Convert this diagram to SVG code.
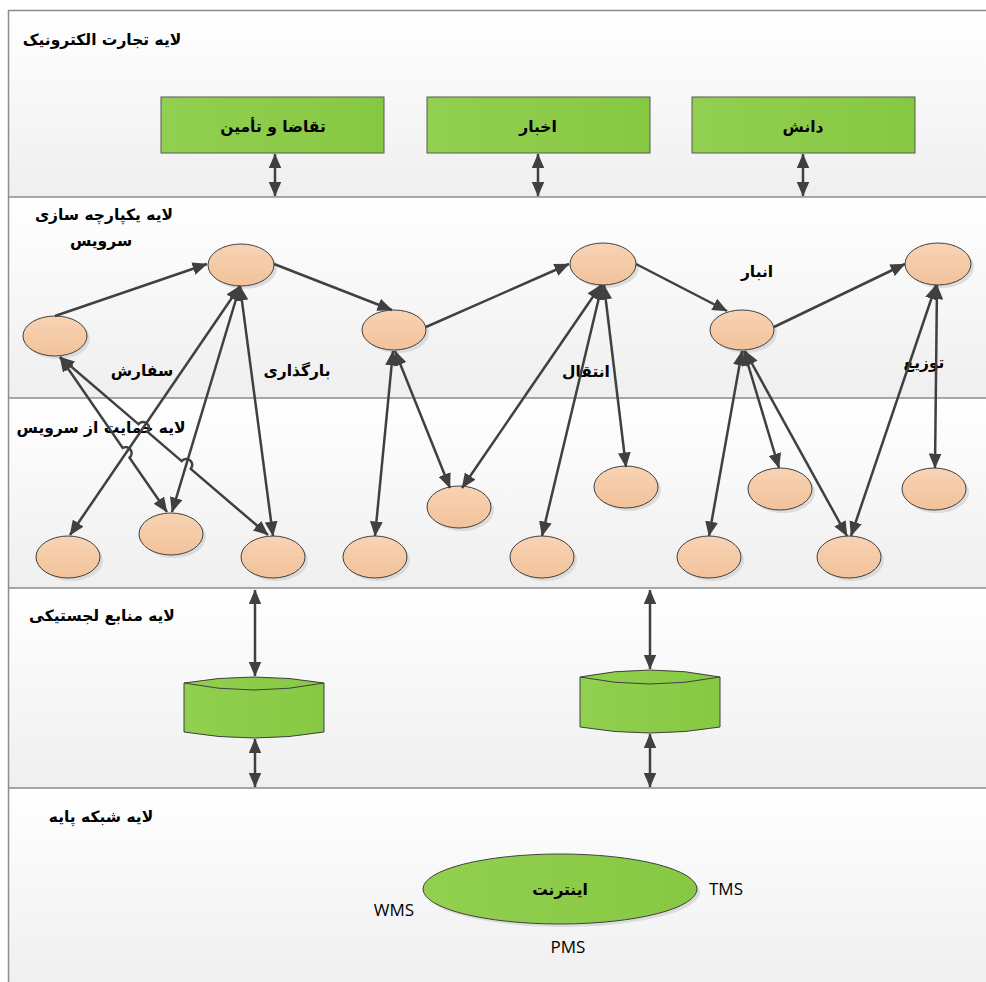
<svg xmlns="http://www.w3.org/2000/svg" width="986" height="982" viewBox="0 0 986 982">
<defs>
<linearGradient id="band" x1="0" y1="0" x2="0" y2="1">
<stop offset="0" stop-color="#ffffff"/>
<stop offset="1" stop-color="#efefef"/>
</linearGradient>
<linearGradient id="green" x1="0" y1="0" x2="1" y2="0">
<stop offset="0" stop-color="#91d050"/>
<stop offset="1" stop-color="#87c843"/>
</linearGradient>
<linearGradient id="peach" x1="0" y1="0" x2="0" y2="1">
<stop offset="0" stop-color="#f8d3b4"/>
<stop offset="1" stop-color="#f2c29b"/>
</linearGradient>
<marker id="ah" viewBox="0 0 14 12" refX="13.5" refY="6" markerWidth="15" markerHeight="13" markerUnits="userSpaceOnUse" orient="auto-start-reverse">
<path d="M0,0 L14,6 L0,12 z" fill="#404040"/>
</marker>
</defs>
<style>
.band{fill:url(#band);}
.sep{stroke:#8c8c8c;stroke-width:1.5;fill:none;}
.box{fill:url(#green);stroke:#595959;stroke-width:1;}
.cyl{fill:url(#green);stroke:#404040;stroke-width:1;}
.node{fill:url(#peach);stroke:#404040;stroke-width:1;}
.shadow{fill:#d6d6d6;opacity:0.8;}
.con{stroke:#404040;stroke-width:2.5;fill:none;marker-start:url(#ah);marker-end:url(#ah);}
.fa{font-family:'DejaVu Sans',sans-serif;font-weight:bold;font-size:15.5px;fill:#000;text-anchor:middle;}
.en{font-family:'Open Sans','Liberation Sans',sans-serif;font-size:17px;fill:#000;text-anchor:middle;}
</style>

<g id="layers">
<rect class="band" x="8" y="10" width="990" height="187"/>
<rect class="band" x="8" y="197" width="990" height="201"/>
<rect class="band" x="8" y="398" width="990" height="190"/>
<rect class="band" x="8" y="588" width="990" height="200"/>
<rect class="band" x="8" y="788" width="990" height="200"/>
<path class="sep" d="M8.5,990 L8.5,10.5 L990,10.5 M8,197 L990,197 M8,398 L990,398 M8,588 L990,588 M8,788 L990,788"/>
<text class="fa" x="102" y="45" direction="rtl">لایه تجارت الکترونیک</text>
<text class="fa" x="104" y="220" direction="rtl">لایه یکپارچه سازی</text>
<text class="fa" x="101" y="246" direction="rtl">سرویس</text>
<text class="fa" x="101" y="433" direction="rtl">لایه حمایت از سرویس</text>
<text class="fa" x="102" y="621" direction="rtl">لایه منابع لجستیکی</text>
<text class="fa" x="101" y="822" direction="rtl">لایه شبکه پایه</text>
</g>

<g id="box-demand">
<rect class="box" x="161" y="97" width="223" height="56"/>
<text class="fa" x="273" y="132" direction="rtl">تقاضا و تأمین</text>
</g>
<g id="box-news">
<rect class="box" x="427" y="97" width="223" height="56"/>
<text class="fa" x="538" y="132" direction="rtl">اخبار</text>
</g>
<g id="box-knowledge">
<rect class="box" x="692" y="97" width="223" height="56"/>
<text class="fa" x="803" y="132" direction="rtl">دانش</text>
</g>

<g id="s1"><ellipse class="shadow" cx="58" cy="339" rx="32" ry="20"/><ellipse class="node" cx="55" cy="336" rx="32" ry="20"/></g>
<g id="s2"><ellipse class="shadow" cx="244" cy="268" rx="33" ry="21"/><ellipse class="node" cx="241" cy="265" rx="33" ry="21"/></g>
<g id="s3"><ellipse class="shadow" cx="397" cy="333" rx="32" ry="20"/><ellipse class="node" cx="394" cy="330" rx="32" ry="20"/></g>
<g id="s4"><ellipse class="shadow" cx="606" cy="267" rx="33" ry="21"/><ellipse class="node" cx="603" cy="264" rx="33" ry="21"/></g>
<g id="s5"><ellipse class="shadow" cx="745" cy="333" rx="32" ry="20"/><ellipse class="node" cx="742" cy="330" rx="32" ry="20"/></g>
<g id="s6"><ellipse class="shadow" cx="941" cy="267" rx="33" ry="21"/><ellipse class="node" cx="938" cy="264" rx="33" ry="21"/></g>

<g id="t1"><ellipse class="shadow" cx="71" cy="560" rx="32" ry="21"/><ellipse class="node" cx="68" cy="557" rx="32" ry="21"/></g>
<g id="t2"><ellipse class="shadow" cx="174" cy="537" rx="32" ry="21"/><ellipse class="node" cx="171" cy="534" rx="32" ry="21"/></g>
<g id="t3"><ellipse class="shadow" cx="276" cy="560" rx="32" ry="21"/><ellipse class="node" cx="273" cy="557" rx="32" ry="21"/></g>
<g id="t4"><ellipse class="shadow" cx="378" cy="560" rx="32" ry="21"/><ellipse class="node" cx="375" cy="557" rx="32" ry="21"/></g>
<g id="t5"><ellipse class="shadow" cx="462" cy="510" rx="32" ry="21"/><ellipse class="node" cx="459" cy="507" rx="32" ry="21"/></g>
<g id="t6"><ellipse class="shadow" cx="545" cy="560" rx="32" ry="21"/><ellipse class="node" cx="542" cy="557" rx="32" ry="21"/></g>
<g id="t7"><ellipse class="shadow" cx="629" cy="490" rx="32" ry="21"/><ellipse class="node" cx="626" cy="487" rx="32" ry="21"/></g>
<g id="t8"><ellipse class="shadow" cx="712" cy="560" rx="32" ry="21"/><ellipse class="node" cx="709" cy="557" rx="32" ry="21"/></g>
<g id="t9"><ellipse class="shadow" cx="783" cy="492" rx="32" ry="21"/><ellipse class="node" cx="780" cy="489" rx="32" ry="21"/></g>
<g id="t10"><ellipse class="shadow" cx="852" cy="560" rx="32" ry="21"/><ellipse class="node" cx="849" cy="557" rx="32" ry="21"/></g>
<g id="t11"><ellipse class="shadow" cx="937" cy="492" rx="32" ry="21"/><ellipse class="node" cx="934" cy="489" rx="32" ry="21"/></g>

<g id="labels">
<text class="fa" x="142" y="376" direction="rtl">سفارش</text>
<text class="fa" x="297" y="376" direction="rtl">بارگذاری</text>
<text class="fa" x="586" y="377" direction="rtl">انتقال</text>
<text class="fa" x="757" y="277" direction="rtl">انبار</text>
<text class="fa" x="924" y="368" direction="rtl">توزیع</text>
</g>

<g id="db1">
<path class="cyl" d="M184,683 Q254,671 324,683 L324,732 Q254,744 184,732 Z"/>
<path class="cyl" d="M184,683 Q254,697 324,683" fill="none"/>
</g>
<g id="db2">
<path class="cyl" d="M580,677 Q650,663 720,677 L720,727 Q650,739 580,727 Z"/>
<path class="cyl" d="M580,677 Q650,691 720,677" fill="none"/>
</g>

<g id="internet">
<ellipse class="shadow" cx="563" cy="892" rx="137" ry="35"/>
<ellipse class="cyl" cx="560" cy="889" rx="137" ry="35"/>
<text class="fa" x="560" y="895" direction="rtl">اینترنت</text>
<text class="en" x="726" y="895">TMS</text>
<text class="en" x="394" y="916">WMS</text>
<text class="en" x="568" y="953">PMS</text>
</g>

<g id="connectors">
<path class="con" d="M275,154 L275,196"/>
<path class="con" d="M538,154 L538,196"/>
<path class="con" d="M803,154 L803,196"/>

<path class="con" d="M55,316 L207,264" style="marker-start:none"/>
<path class="con" d="M274,264 L392,310" style="marker-start:none"/>
<path class="con" d="M426,327 L569,264" style="marker-start:none"/>
<path class="con" d="M636,264 L727,311" style="marker-start:none"/>
<path class="con" d="M774,327 L905,264" style="marker-start:none"/>

<path class="con" d="M60,357 L122.7,447.9 A6,6 0 0,1 129.5,457.7 L167,512"/>
<path class="con" d="M60,357 L138.4,424.1 A6,6 0 0,1 147.6,431.9 L181.6,461.1 A6,6 0 0,1 190.8,468.9 L268,535"/>
<path class="con" d="M240,286 L70,535"/>
<path class="con" d="M240,286 L172,512"/>
<path class="con" d="M240,286 L273,536"/>

<path class="con" d="M393,351 L375,536"/>
<path class="con" d="M395,351 L450,488"/>
<path class="con" d="M601,285 L462,488"/>
<path class="con" d="M602,285 L542,536"/>
<path class="con" d="M604,285 L626,467"/>

<path class="con" d="M742,351 L709,536"/>
<path class="con" d="M744,351 L779,468"/>
<path class="con" d="M745,351 L847,536"/>
<path class="con" d="M936,285 L851,536"/>
<path class="con" d="M937,285 L935,468"/>

<path class="con" d="M255,590 L255,676"/>
<path class="con" d="M255,739 L255,787"/>
<path class="con" d="M650,590 L650,669"/>
<path class="con" d="M650,734 L650,787"/>
</g>
</svg>
